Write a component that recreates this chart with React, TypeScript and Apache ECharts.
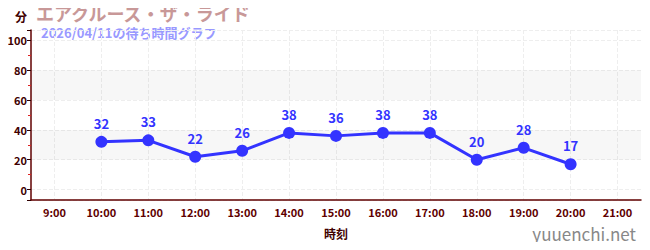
import React, { useEffect, useRef } from "react";
import * as echarts from "echarts";

const categories = ["9:00", "10:00", "11:00", "12:00", "13:00", "14:00", "15:00", "16:00", "17:00", "18:00", "19:00", "20:00", "21:00"];
const waitTimes: (number | null)[] = [null, 32, 33, 22, 26, 38, 36, 38, 38, 20, 28, 17, null];
const yTicks = [0, 20, 40, 60, 80, 100];
const bands: [number, number][] = [[20, 40], [60, 80]];
const titleText = "エアクルーズ・ザ・ライド";
const subText = "2026/04/11の待ち時間グラフ";

const FONT = "'Noto Sans CJK JP', 'Noto Sans', sans-serif";

export default function App() {
  const ref = useRef<HTMLDivElement>(null);
  useEffect(() => {
    if (!ref.current) return;
    const chart = echarts.init(ref.current, undefined, { renderer: "svg" });
    chart.setOption({
      animation: false,
      textStyle: { fontFamily: FONT },
      graphic: [
        {
          type: "text",
          x: 36,
          y: 13,
          style: {
            text: titleText,
            fill: "#c89898",
            font: `bold 18px ${FONT}`,
            verticalAlign: "middle",
            align: "left",
          },
        },
        {
          type: "text",
          x: 41,
          y: 32,
          style: {
            text: subText,
            fill: "#9999ff",
            font: `bold 13px ${FONT}`,
            verticalAlign: "middle",
            align: "left",
          },
        },
        {
          type: "text",
          right: 14,
          bottom: 8,
          style: { text: "yuuenchi.net", fill: "#888", font: `17px ${FONT}` },
        },
      ],
      grid: { left: 31, right: 9, top: 30, bottom: 50 },
      xAxis: {
        type: "category",
        data: categories,
        boundaryGap: true,
        name: "時刻",
        nameLocation: "middle",
        nameGap: 27,
        nameTextStyle: { color: "#400000", fontSize: 12, fontWeight: "bold", fontFamily: FONT },
        axisLine: { onZero: false, lineStyle: { color: "#600000", width: 1.5 } },
        axisTick: { alignWithLabel: true, inside: true, length: 4, lineStyle: { color: "#777" } },
        axisLabel: { color: "#600000", fontSize: 11, fontWeight: "bold", margin: 6, fontFamily: FONT },
        splitLine: { show: true, alignWithLabel: true, lineStyle: { color: "#eeeeee", type: "dashed" } },
      },
      yAxis: {
        type: "value",
        min: -7,
        max: 107,
        splitNumber: 5,
        name: "分",
        nameLocation: "end",
        nameGap: 8,
        nameTextStyle: { color: "#400000", fontSize: 12, fontWeight: "bold", align: "right", padding: [0, 4, 0, 0], fontFamily: FONT },
        axisLine: { show: true, lineStyle: { color: "#600000", width: 1.5 } },
        axisTick: {
          show: true,
          length: 4,
          lineStyle: { color: "#300000" },
        },
        minorTick: { show: true, splitNumber: 2, length: 3, lineStyle: { color: "#dd2222" } },
        axisLabel: {
          color: "#400000",
          fontSize: 11,
          fontWeight: "bold",
          margin: 4,
          fontFamily: FONT,
          formatter: (v: number) => (yTicks.includes(v) ? String(v) : ""),
        },
        splitLine: { show: true, lineStyle: { color: "#eeeeee", type: "dashed" } },
      },
      series: [
        {
          type: "line",
          data: waitTimes,
          connectNulls: false,
          symbol: "circle",
          symbolSize: 12,
          itemStyle: { color: "#3333ff" },
          lineStyle: { color: "#3333ff", width: 3 },
          label: {
            show: true,
            position: "top",
            distance: 6,
            color: "#3333ff",
            fontSize: 13,
            fontWeight: "bold",
            fontFamily: FONT,
          },
          markArea: {
            silent: true,
            itemStyle: { color: "rgba(0,0,0,0.03)" },
            data: bands.map(([a, b]) => [{ yAxis: a }, { yAxis: b }]),
          },
        },
      ],
    });
    return () => chart.dispose();
  }, []);
  return <div ref={ref} style={{ width: 650, height: 250, margin: -8 }} />;
}
